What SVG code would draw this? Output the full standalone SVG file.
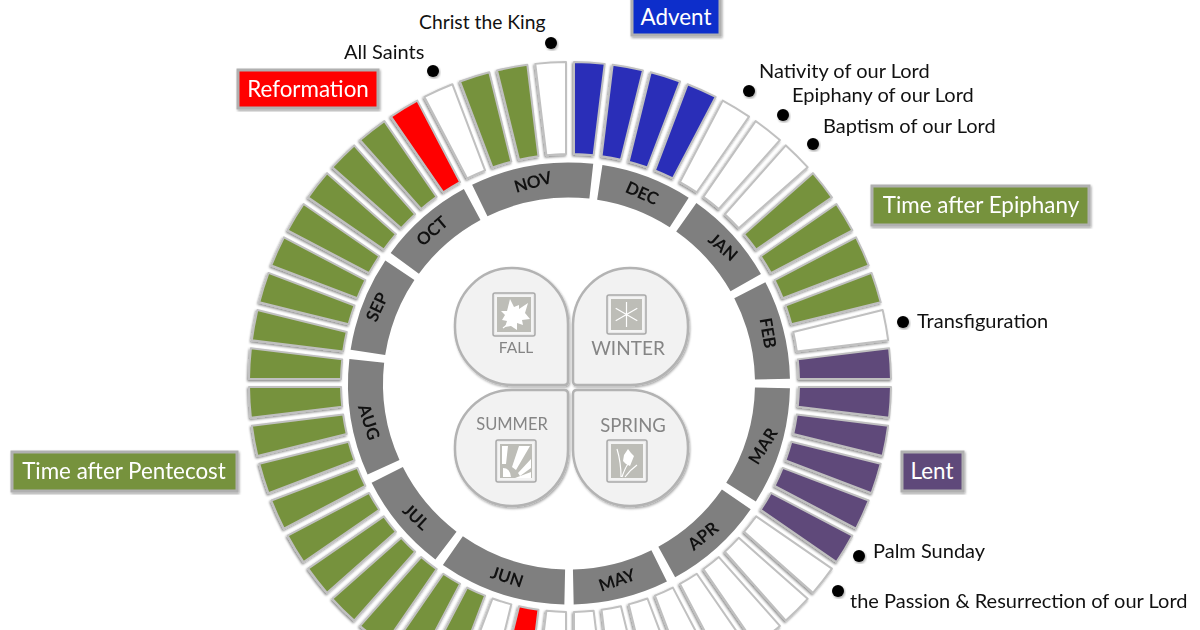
<svg xmlns="http://www.w3.org/2000/svg" width="1200" height="630" viewBox="0 0 1200 630">
<style>
text{font-family:Lato,"Noto Sans","Liberation Sans",sans-serif}
.w{stroke:#c0c0c0;stroke-width:2;stroke-linejoin:round}
.wh{fill:#fff}.gr{fill:#76923c}.pu{fill:#5f497a}.bl{fill:#2a2fb8}.re{fill:#f00}
.m{fill:none;stroke:#7f7f7f;stroke-width:35}
.mt{font-size:17px;font-weight:700;fill:#111;text-anchor:middle}
.lb{font-size:20px;fill:#111}
.box{stroke:#b0b0b0;stroke-width:3}
.bt{font-size:22.4px;fill:#fff;text-anchor:middle}
.pet{fill:#f2f2f2;stroke:#b3b3b3;stroke-width:2.5}
.pt{fill:#858585;text-anchor:middle}
.ic{fill:#bdbdb7;stroke:#f4f4f4;stroke-width:2}
.ico{fill:#e8e8e8;stroke:#a9a9a9;stroke-width:1.5}
.iw{fill:#fff}
.il{stroke:#fff;stroke-width:1.2;fill:none}
</style>
<defs>
<filter id="sh" x="-10%" y="-10%" width="120%" height="120%"><feDropShadow dx="1" dy="1.5" stdDeviation="1.2" flood-color="#000" flood-opacity="0.35"/></filter>
<filter id="ws" x="-5%" y="-5%" width="110%" height="110%"><feDropShadow dx="-1" dy="1.5" stdDeviation="1.3" flood-color="#000" flood-opacity="0.45"/></filter>
<path id="wedge" class="w" d="M228.97 4L320.98 4A321 321 0 0 1 319.12 34.72L227.78 23.63A229 229 0 0 0 228.97 4Z"/>
</defs>
<g id="wedges" filter="url(#ws)">
<g transform="translate(570 383)">
<use id="w0" href="#wedge" class="pu" transform="rotate(0)"/>
<use id="w1" href="#wedge" class="pu" transform="rotate(6.923)"/>
<use id="w2" href="#wedge" class="pu" transform="rotate(13.846)"/>
<use id="w3" href="#wedge" class="pu" transform="rotate(20.769)"/>
<use id="w4" href="#wedge" class="pu" transform="rotate(27.692)"/>
<use id="w5" href="#wedge" class="wh" transform="rotate(34.615)"/>
<use id="w6" href="#wedge" class="wh" transform="rotate(41.538)"/>
<use id="w7" href="#wedge" class="wh" transform="rotate(48.462)"/>
<use id="w8" href="#wedge" class="wh" transform="rotate(55.385)"/>
<use id="w9" href="#wedge" class="wh" transform="rotate(62.308)"/>
<use id="w10" href="#wedge" class="wh" transform="rotate(69.231)"/>
<use id="w11" href="#wedge" class="wh" transform="rotate(76.154)"/>
<use id="w12" href="#wedge" class="wh" transform="rotate(83.077)"/>
<use id="w13" href="#wedge" class="wh" transform="rotate(90)"/>
<use id="w14" href="#wedge" class="re" transform="rotate(96.923)"/>
<use id="w15" href="#wedge" class="wh" transform="rotate(103.846)"/>
<use id="w16" href="#wedge" class="gr" transform="rotate(110.769)"/>
<use id="w17" href="#wedge" class="gr" transform="rotate(117.692)"/>
<use id="w18" href="#wedge" class="gr" transform="rotate(124.615)"/>
<use id="w19" href="#wedge" class="gr" transform="rotate(131.538)"/>
<use id="w20" href="#wedge" class="gr" transform="rotate(138.462)"/>
<use id="w21" href="#wedge" class="gr" transform="rotate(145.385)"/>
<use id="w22" href="#wedge" class="gr" transform="rotate(152.308)"/>
<use id="w23" href="#wedge" class="gr" transform="rotate(159.231)"/>
<use id="w24" href="#wedge" class="gr" transform="rotate(166.154)"/>
<use id="w25" href="#wedge" class="gr" transform="rotate(173.077)"/>
<use id="w26" href="#wedge" class="gr" transform="rotate(180)"/>
<use id="w27" href="#wedge" class="gr" transform="rotate(186.923)"/>
<use id="w28" href="#wedge" class="gr" transform="rotate(193.846)"/>
<use id="w29" href="#wedge" class="gr" transform="rotate(200.769)"/>
<use id="w30" href="#wedge" class="gr" transform="rotate(207.692)"/>
<use id="w31" href="#wedge" class="gr" transform="rotate(214.615)"/>
<use id="w32" href="#wedge" class="gr" transform="rotate(221.538)"/>
<use id="w33" href="#wedge" class="gr" transform="rotate(228.462)"/>
<use id="w34" href="#wedge" class="re" transform="rotate(235.385)"/>
<use id="w35" href="#wedge" class="wh" transform="rotate(242.308)"/>
<use id="w36" href="#wedge" class="gr" transform="rotate(249.231)"/>
<use id="w37" href="#wedge" class="gr" transform="rotate(256.154)"/>
<use id="w38" href="#wedge" class="wh" transform="rotate(263.077)"/>
<use id="w39" href="#wedge" class="bl" transform="rotate(270)"/>
<use id="w40" href="#wedge" class="bl" transform="rotate(276.923)"/>
<use id="w41" href="#wedge" class="bl" transform="rotate(283.846)"/>
<use id="w42" href="#wedge" class="bl" transform="rotate(290.769)"/>
<use id="w43" href="#wedge" class="wh" transform="rotate(297.692)"/>
<use id="w44" href="#wedge" class="wh" transform="rotate(304.615)"/>
<use id="w45" href="#wedge" class="wh" transform="rotate(311.538)"/>
<use id="w46" href="#wedge" class="gr" transform="rotate(318.462)"/>
<use id="w47" href="#wedge" class="gr" transform="rotate(325.385)"/>
<use id="w48" href="#wedge" class="gr" transform="rotate(332.308)"/>
<use id="w49" href="#wedge" class="gr" transform="rotate(339.231)"/>
<use id="w50" href="#wedge" class="wh" transform="rotate(346.154)"/>
<use id="w51" href="#wedge" class="pu" transform="rotate(353.077)"/>
</g>
</g>
<g id="months">
<g id="mar"><circle class="m" cx="569" cy="383.500" r="203.5" pathLength="360" stroke-dasharray="31.1 328.9" transform="rotate(1.2 569 383.500)"/><text class="mt" transform="translate(763 446) rotate(-58)" y="6">MAR</text></g>
<g id="apr"><circle class="m" cx="569" cy="383.500" r="203.5" pathLength="360" stroke-dasharray="26.6 333.4" transform="rotate(34.7 569 383.500)"/><text class="mt" transform="translate(703 536) rotate(-39)" y="6">APR</text></g>
<g id="may"><circle class="m" cx="569" cy="383.500" r="203.5" pathLength="360" stroke-dasharray="25.1 334.9" transform="rotate(63.7 569 383.500)"/><text class="mt" transform="translate(617 580) rotate(-19)" y="6">MAY</text></g>
<g id="jun"><circle class="m" cx="569" cy="383.500" r="203.5" pathLength="360" stroke-dasharray="33.6 326.4" transform="rotate(91.2 569 383.500)"/><text class="mt" transform="translate(507 577) rotate(18)" y="6">JUN</text></g>
<g id="jul"><circle class="m" cx="569" cy="383.500" r="203.5" pathLength="360" stroke-dasharray="26.1 333.9" transform="rotate(127.2 569 383.500)"/><text class="mt" transform="translate(416 517) rotate(43)" y="6">JUL</text></g>
<g id="aug"><circle class="m" cx="569" cy="383.500" r="203.5" pathLength="360" stroke-dasharray="30.7 329.3" transform="rotate(155.7 569 383.500)"/><text class="mt" transform="translate(369 422) rotate(72)" y="6">AUG</text></g>
<g id="sep"><circle class="m" cx="569" cy="383.500" r="203.5" pathLength="360" stroke-dasharray="25 335" transform="rotate(188.8 569 383.500)"/><text class="mt" transform="translate(377 307) rotate(-65)" y="6">SEP</text></g>
<g id="oct"><circle class="m" cx="569" cy="383.500" r="203.5" pathLength="360" stroke-dasharray="25.4 334.6" transform="rotate(216.2 569 383.500)"/><text class="mt" transform="translate(432 231) rotate(-41)" y="6">OCT</text></g>
<g id="nov"><circle class="m" cx="569" cy="383.500" r="203.5" pathLength="360" stroke-dasharray="32.3 327.7" transform="rotate(244 569 383.500)"/><text class="mt" transform="translate(533 182) rotate(-16)" y="6">NOV</text></g>
<g id="dec"><circle class="m" cx="569" cy="383.500" r="203.5" pathLength="360" stroke-dasharray="24.1 335.9" transform="rotate(278.7 569 383.500)"/><text class="mt" transform="translate(642 193) rotate(24)" y="6">DEC</text></g>
<g id="jan"><circle class="m" cx="569" cy="383.500" r="203.5" pathLength="360" stroke-dasharray="25.1 334.9" transform="rotate(305.2 569 383.500)"/><text class="mt" transform="translate(723 247) rotate(41)" y="6">JAN</text></g>
<g id="feb"><circle class="m" cx="569" cy="383.500" r="203.5" pathLength="360" stroke-dasharray="26.1 333.9" transform="rotate(332.700 569 383.500)"/><text class="mt" transform="translate(768 333) rotate(80)" y="6">FEB</text></g>
</g>
<g id="fall"><path class="pet" filter="url(#sh)" d="M455 326A57 57 0 0 1 512 268A56 56 0 0 1 568 324V381Q568 385 564 385H513A58 58 0 0 1 455 326Z"/>
<rect class="ico" x="493" y="293" width="42" height="43" rx="2"/><rect class="ic" x="496" y="296" width="36" height="37"/>
<path class="iw" d="M510 299L514 307L519 305L519 309L528 303L525 313L530 319L522 320L523 325L517 323L517 330L511 326L505 327L507 321L502 320L505 315L501 311L507 311Z"/><path class="il" d="M503 328L511 322"/>
<text class="pt" x="516" y="353" font-size="15.5">FALL</text></g>
<g id="winter"><path class="pet" filter="url(#sh)" d="M573 324A57 57 0 0 1 630 268A58 58 0 0 1 688 326A58 58 0 0 1 630 385H577Q573 385 573 381Z"/>
<rect class="ico" x="607" y="295" width="39" height="39" rx="2"/><rect class="ic" x="610" y="298" width="33" height="33"/>
<path class="il" d="M626.500 302V327M615.700 308.200L637.300 320.800M615.700 320.800L637.300 308.200"/>
<text class="pt" x="628" y="355" font-size="19">WINTER</text></g>
<g id="summer"><path class="pet" filter="url(#sh)" d="M455 448A57 57 0 0 1 513 390H564Q568 390 568 394V450A56 56 0 0 1 512 506A57 57 0 0 1 455 448Z"/>
<rect class="ico" x="496" y="440" width="40" height="42" rx="2"/><rect class="ic" x="499" y="443" width="34" height="36"/>
<path class="iw" d="M502 446H508L506 464L502 464ZM512 467L519 446H530L516 470ZM518 473L531 459V468L520 476ZM503 468Q510 468 511 477H503ZM515 478L531 472V478Z"/>
<text class="pt" x="512" y="430" font-size="16.500">SUMMER</text></g>
<g id="spring"><path class="pet" filter="url(#sh)" d="M573 394Q573 390 577 390H630A58 58 0 0 1 688 448A58 58 0 0 1 630 506A57 57 0 0 1 573 450Z"/>
<rect class="ico" x="607" y="440" width="40" height="42" rx="2"/><rect class="ic" x="610" y="443" width="34" height="36"/>
<path class="iw" d="M628 449L631 453L634 456L632 461L630 466L626 464L623 461L624 455Z"/><path class="il" d="M617 449Q621 462 621 477M622 477Q625 468 628 464M625 477Q630 470 637 465"/>
<text class="pt" x="633" y="432" font-size="18.500">SPRING</text></g>
<g id="advent"><rect class="box" filter="url(#sh)" x="632" y="-6" width="88" height="41" fill="#0a2fcb"/><text class="bt" x="676" y="25">Advent</text></g>
<g id="reformation"><rect class="box" filter="url(#sh)" x="238" y="70" width="140" height="38" fill="#f00"/><text class="bt" x="308" y="97">Reformation</text></g>
<g id="epiphany"><rect class="box" filter="url(#sh)" x="872" y="186" width="217" height="39" fill="#76923c"/><text class="bt" x="981" y="213">Time after Epiphany</text></g>
<g id="lent"><rect class="box" filter="url(#sh)" x="902" y="452" width="61" height="39" fill="#5f497a"/><text class="bt" x="932" y="479">Lent</text></g>
<g id="pentecost"><rect class="box" filter="url(#sh)" x="12" y="452" width="225" height="39" fill="#76923c"/><text class="bt" x="124" y="479">Time after Pentecost</text></g>
<g id="c-king"><circle filter="url(#sh)" cx="551" cy="43" r="6"/><text class="lb" x="419" y="29" style="font-size:19.3px">Christ the King</text></g>
<g id="all-saints"><circle filter="url(#sh)" cx="433" cy="71" r="6"/><text class="lb" x="344" y="59">All Saints</text></g>
<g id="nativity"><circle filter="url(#sh)" cx="749" cy="91" r="6"/><text class="lb" x="759" y="78">Nativity of our Lord</text></g>
<g id="epiphany-day"><circle filter="url(#sh)" cx="783" cy="115" r="6"/><text class="lb" x="792" y="102">Epiphany of our Lord</text></g>
<g id="baptism"><circle filter="url(#sh)" cx="813" cy="144" r="6"/><text class="lb" x="823" y="133">Baptism of our Lord</text></g>
<g id="transfiguration"><circle filter="url(#sh)" cx="903" cy="322" r="6"/><text class="lb" x="917" y="328">Transfiguration</text></g>
<g id="palm"><circle filter="url(#sh)" cx="859" cy="556" r="6"/><text class="lb" x="873" y="558">Palm Sunday</text></g>
<g id="passion"><circle filter="url(#sh)" cx="838" cy="591" r="6"/><text class="lb" x="850" y="608">the Passion &amp; Resurrection of our Lord</text></g>
</svg>
